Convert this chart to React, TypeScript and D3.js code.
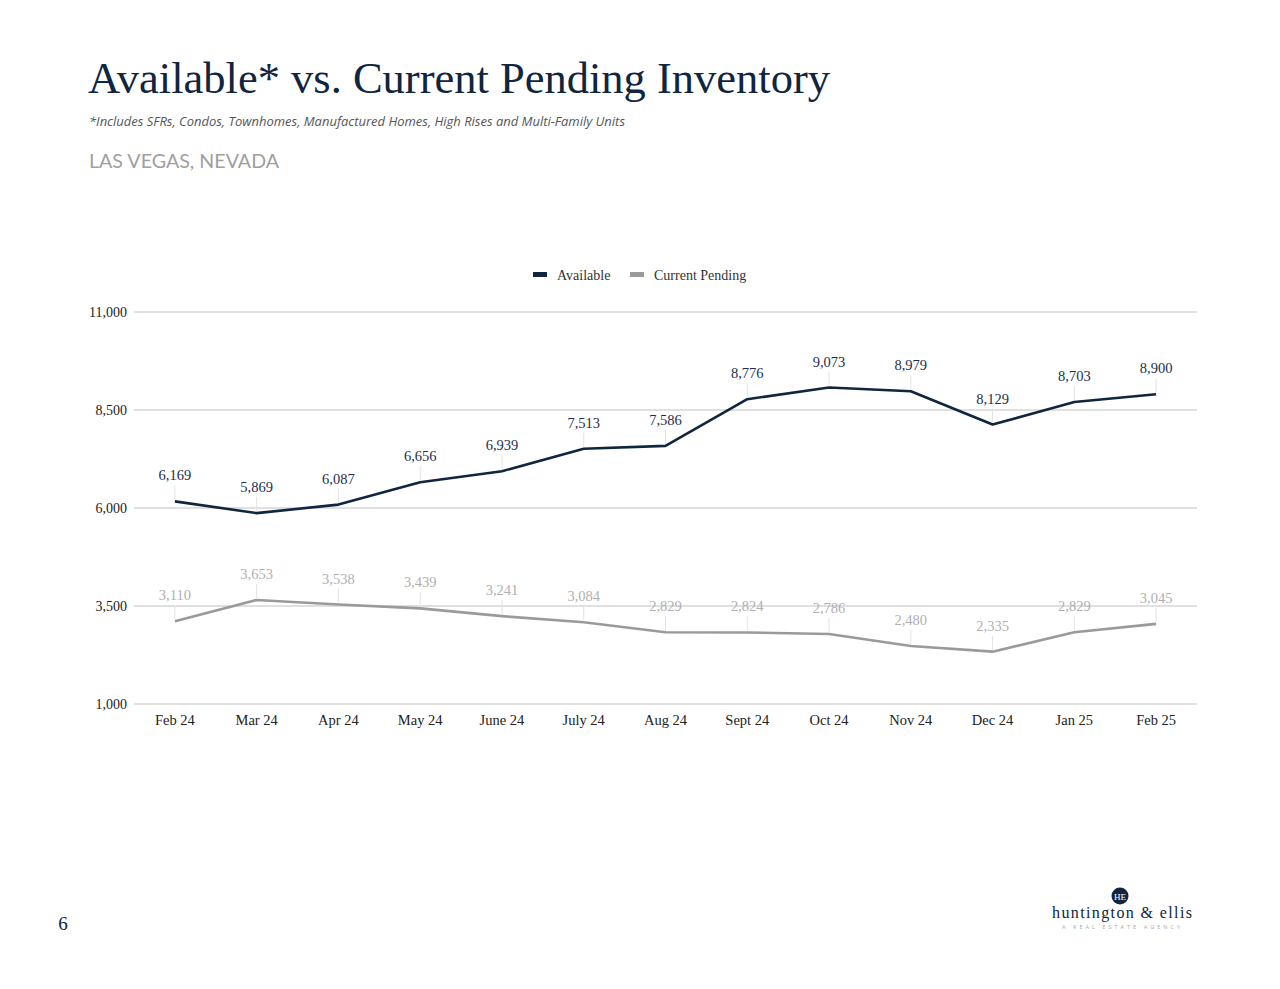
import React from "react";
import * as d3 from "d3";

const months = ["Feb 24", "Mar 24", "Apr 24", "May 24", "June 24", "July 24", "Aug 24", "Sept 24", "Oct 24", "Nov 24", "Dec 24", "Jan 25", "Feb 25"];
const available = [6169, 5869, 6087, 6656, 6939, 7513, 7586, 8776, 9073, 8979, 8129, 8703, 8900];
const pending = [3110, 3653, 3538, 3439, 3241, 3084, 2829, 2824, 2786, 2480, 2335, 2829, 3045];
const yTicks = [1000, 3500, 6000, 8500, 11000];

const NAVY = "#10253f";
const GRAY = "#9a9a9a";
const SERIF = "'Liberation Serif', 'DejaVu Serif', serif";
const SANS = "'Open Sans', Lato, sans-serif";

export default function App() {
  const x = d3.scalePoint<string>().domain(months).range([134, 1197]).padding(0.5);
  const y = d3.scaleLinear().domain([1000, 11000]).range([704, 312]);
  const fmt = d3.format(",");
  const line = d3
    .line<number>()
    .x((_, i) => x(months[i]) as number)
    .y((d) => y(d));

  const series = [
    { name: "Available", values: available, color: NAVY, label: "#1d2f4c" },
    { name: "Current Pending", values: pending, color: GRAY, label: "#b0b0b0" },
  ];

  return (
    <svg width={1280} height={989} style={{ position: "absolute", left: 0, top: 0, background: "#fff" }}>
      <text x={88} y={93} fontFamily={SERIF} fontSize={45} fill={NAVY} textLength={742} lengthAdjust="spacingAndGlyphs">
        Available* vs. Current Pending Inventory
      </text>
      <text x={89} y={126} fontFamily={SANS} fontStyle="italic" fontSize={12.5} fill="#555" textLength={536} lengthAdjust="spacingAndGlyphs">
        *Includes SFRs, Condos, Townhomes, Manufactured Homes, High Rises and Multi-Family Units
      </text>
      <text x={89} y={168} fontFamily="Lato, sans-serif" fontSize={19} fill="#a0a0a0" textLength={190} lengthAdjust="spacingAndGlyphs">
        LAS VEGAS, NEVADA
      </text>

      {/* legend */}
      <rect x={533} y={272} width={14} height={5} fill={NAVY} />
      <text x={557} y={280} fontFamily={SERIF} fontSize={14} fill="#333">Available</text>
      <rect x={630} y={272} width={14} height={5} fill={GRAY} />
      <text x={654} y={280} fontFamily={SERIF} fontSize={14} fill="#333">Current Pending</text>

      {/* grid */}
      {yTicks.map((t) => (
        <g key={t}>
          <line x1={134} x2={1197} y1={y(t)} y2={y(t)} stroke="#d6d6d6" strokeWidth={1.3} />
          <text x={127} y={y(t) + 5} textAnchor="end" fontFamily={SERIF} fontSize={14} fill="#222">
            {fmt(t)}
          </text>
        </g>
      ))}

      {months.map((m) => (
        <text key={m} x={x(m)} y={725} textAnchor="middle" fontFamily={SERIF} fontSize={14.5} fill="#222">
          {m}
        </text>
      ))}

      {series.map((s) => (
        <g key={s.name}>
          {s.values.map((v, i) => (
            <line
              key={"l" + i}
              x1={x(months[i])}
              x2={x(months[i])}
              y1={y(v) - 2}
              y2={y(v) - 16}
              stroke="#e3e3e3"
              strokeWidth={1}
            />
          ))}
          <path d={line(s.values) || ""} fill="none" stroke={s.color} strokeWidth={2.6} strokeLinejoin="round" />
          {s.values.map((v, i) => (
            <text
              key={"t" + i}
              x={x(months[i])}
              y={y(v) - 21}
              textAnchor="middle"
              fontFamily={SERIF}
              fontSize={14.5}
              fill={s.label}
            >
              {fmt(v)}
            </text>
          ))}
        </g>
      ))}

      {/* page number */}
      <text x={63} y={930} textAnchor="middle" fontFamily={SERIF} fontSize={19} fill={NAVY}>6</text>

      {/* logo */}
      <circle cx={1120} cy={896} r={8.5} fill={NAVY} />
      <text x={1120} y={899.5} textAnchor="middle" fontFamily={SERIF} fontSize={9} fill="#fff">HE</text>
      <text x={1052} y={918} fontFamily={SERIF} fontSize={16} fill={NAVY} textLength={140} lengthAdjust="spacing">
        huntington &amp; ellis
      </text>
      <text x={1062} y={929} fontFamily={SANS} fontSize={5.5} fill="#aaa" textLength={118} lengthAdjust="spacing">
        A REAL ESTATE AGENCY
      </text>
    </svg>
  );
}
